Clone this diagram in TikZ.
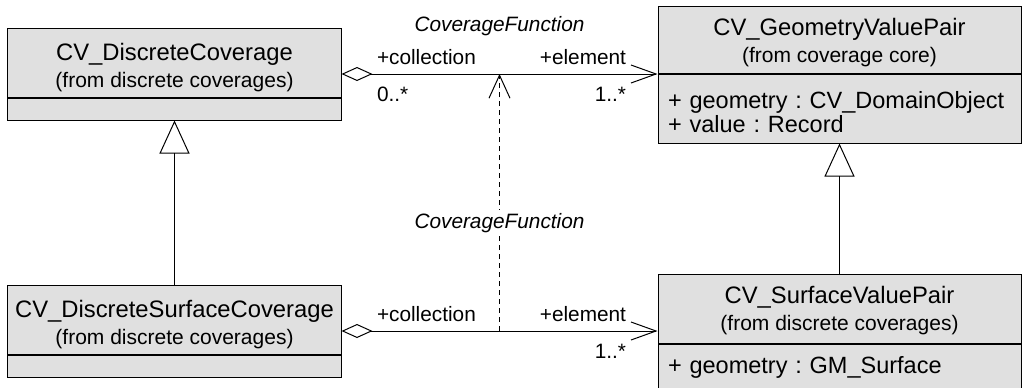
\documentclass[tikz,border=0pt]{standalone}
\usepackage{fontspec}
\setmainfont{Liberation Sans}
\usetikzlibrary{arrows.meta}
\definecolor{classgray}{RGB}{224,224,224}
\newcommand{\clsname}[3][21bp]{{\fontsize{23.8bp}{27bp}\selectfont\rule{0pt}{#1}#2}\\#3}

\begin{document}
\frenchspacing
\begin{tikzpicture}[x=1bp,y=-1bp,line width=1bp,
  head/.style={draw,fill=classgray,align=center,inner sep=0pt,
    font=\fontsize{21bp}{27bp}\selectfont},
  attr/.style={draw,fill=classgray,align=left,inner xsep=10bp,inner ysep=0pt,
    anchor=north,font=\fontsize{23.5bp}{24bp}\selectfont},
  role/.style={inner sep=0pt,font=\fontsize{20.8bp}{24bp}\selectfont},
  aggr/.style={{Diamond[open,length=31bp,width=14bp]}-{Straight Barb[length=25bp,width=18bp]}},
  gen/.style={-{Triangle[open,length=33bp,width=30bp]}},
  realize/.style={dash pattern=on 5bp off 4bp,-{Straight Barb[length=23bp,width=21bp]}}]
\useasboundingbox (0,0) rectangle (1023,387);

% class boxes
\node[head,minimum width=333bp,minimum height=69bp] (dc) at (174.5,62.5)
  {\clsname[27bp]{CV\_DiscreteCoverage}{(from discrete coverages)}};
\node[attr,minimum width=333bp,minimum height=22bp] (dcattr) at (dc.south) {};
\node[head,minimum width=363bp,minimum height=67bp] (gv) at (839.5,39.5)
  {\clsname[23bp]{CV\_GeometryValuePair}{(from coverage core)}};
\node[attr,text width=343bp,minimum height=69bp] (gvattr) at (gv.south)
  {\rule{0pt}{24bp}+ geometry : CV\_DomainObject\\+ value : Record};
\node[head,minimum width=333bp,minimum height=69bp] (dsc) at (174.5,319.5)
  {\clsname[27bp]{CV\_DiscreteSurfaceCoverage}{(from discrete coverages)}};
\node[attr,minimum width=333bp,minimum height=22bp] (dscattr) at (dsc.south) {};
\node[head,minimum width=363bp,minimum height=69bp] (svp) at (839.5,308.5)
  {\clsname{CV\_SurfaceValuePair}{(from discrete coverages)}};
\node[attr,text width=343bp,minimum height=46bp] (svpattr) at (svp.south)
  {+ geometry : GM\_Surface};

% generalizations
\draw[gen] (dsc.north) -- (dcattr.south);
\draw[gen] (svp.north) -- (gvattr.south);

% associations
\draw[aggr] ([yshift=-11.5bp]dc.east) -- coordinate[midway] (cf1) ([yshift=-11.5bp]dc.east -| gv.west)
  node[role,at start,anchor=base west,xshift=35bp,yshift=10bp] (col1) {+collection}
  node[role,at start,anchor=base west,xshift=35bp,yshift=-27bp] (mul1) {0..*}
  node[role,at end,anchor=base east,xshift=-31bp,yshift=10bp] (elem1) {+element}
  node[role,at end,anchor=base east,xshift=-31bp,yshift=-27bp] (mul2) {1..*};
\node[role,anchor=base,yshift=43bp,font=\fontsize{20.8bp}{24bp}\selectfont\itshape] (cfname1) at (cf1) {CoverageFunction};

\draw[aggr] ([yshift=-11.5bp]dsc.east) -- coordinate[midway] (cf2) ([yshift=-11.5bp]dsc.east -| svp.west)
  node[role,at start,anchor=base west,xshift=35bp,yshift=10bp] (col2) {+collection}
  node[role,at end,anchor=base east,xshift=-31bp,yshift=10bp] (elem2) {+element}
  node[role,at end,anchor=base east,xshift=-31bp,yshift=-27bp] (mul3) {1..*};

% dependency between the two associations
\draw[realize] (cf2) -- (cf1)
  node[pos=0.42,fill=white,inner sep=3bp,font=\fontsize{20.8bp}{24bp}\selectfont\itshape] (cfname2) {CoverageFunction};
\end{tikzpicture}
\end{document}
